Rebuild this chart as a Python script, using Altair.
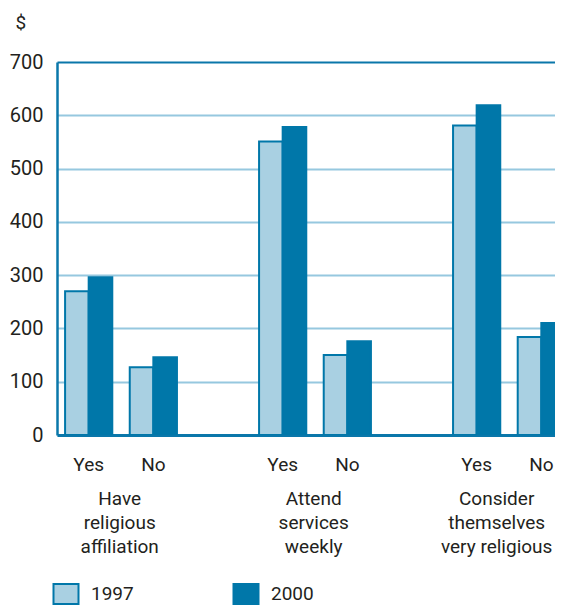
import altair as alt
import pandas as pd

groups = ["Have\nreligious\naffiliation", "Attend\nservices\nweekly", "Consider\nthemselves\nvery religious"]
answers = ["Yes", "No"]
years = ["1997", "2000"]
values_1997 = [270, 127, 551, 150, 581, 184]
values_2000 = [296, 146, 578, 176, 619, 210]
y_ticks = [0, 100, 200, 300, 400, 500, 600, 700]

slots = ["Yes1", "No1", "gap1", "Yes2", "No2", "gap2", "Yes3", "No3"]

rows = []
k = 0
for gi, g in enumerate(groups):
    for a in answers:
        slot = f"{a}{gi+1}"
        rows.append({"slot": slot, "year": "1997", "value": values_1997[k]})
        rows.append({"slot": slot, "year": "2000", "value": values_2000[k]})
        k += 1
df = pd.DataFrame(rows)
glabels = pd.DataFrame({"slot": [f"Yes{i+1}" for i in range(3)], "label": groups, "g": [1, 2, 3]})

FONT = "Roboto, sans-serif"
DARK = "#0a77aa"
BARDARK = "#0077a9"
LIGHT = "#a9d0e2"
TXT = "#231f20"

xscale = alt.Scale(domain=slots, paddingInner=0.27, paddingOuter=0.125)

bars = alt.Chart(df).mark_bar(stroke=BARDARK, strokeWidth=2, clip=True).encode(
    x=alt.X("slot:N", sort=slots, scale=xscale, title=None,
            axis=alt.Axis(labelExpr="slice(datum.value,0,-1) == 'gap' ? '' : slice(datum.value,0,-1)",
                          ticks=False, labelAngle=0, labelPadding=20, labelFontSize=19,
                          labelFont=FONT, labelColor=TXT, domainColor=DARK, domainWidth=3,
                          grid=False)),
    xOffset=alt.XOffset("year:N", sort=years),
    y=alt.Y("value:Q", scale=alt.Scale(domain=[0, 700], nice=False),
            axis=alt.Axis(values=y_ticks, ticks=False, labelPadding=14, labelFontSize=20,
                          labelFont=FONT, labelColor=TXT, domainColor=DARK, domainWidth=2.5,
                          gridColor={"condition": {"test": "datum.value == 700", "value": DARK}, "value": "#96c8df"},
                          gridWidth=2,
                          title="$", titleAngle=0, titleAlign="left", titleBaseline="alphabetic",
                          titleX=-42, titleY=-34, titleFont=FONT, titleFontSize=19,
                          titleFontWeight="normal", titleColor=TXT)),
    fill=alt.Fill("year:N", sort=years, scale=alt.Scale(domain=years, range=[LIGHT, BARDARK]),
                  legend=alt.Legend(title=None, orient="none", legendX=-2, legendY=521,
                                    direction="horizontal", columnPadding=95,
                                    symbolType="M-1.25,-1H1.25V1H-1.25Z", symbolSize=400,
                                    symbolStrokeColor=BARDARK, symbolStrokeWidth=2,
                                    labelFont=FONT, labelFontSize=19, labelColor=TXT,
                                    labelOffset=14)),
)

def group_text(sel, dx):
    return alt.Chart(glabels).transform_filter(sel).mark_text(
        font=FONT, fontSize=19, color=TXT, baseline="top", align="center",
        lineBreak="\n", lineHeight=24, dx=dx).encode(
        x=alt.X("slot:N", sort=slots, scale=xscale),
        y=alt.value(428),
        text="label:N",
    )

texts12 = group_text("datum.g < 3", 31)
texts3 = group_text("datum.g == 3", 20)

chart = alt.layer(bars, texts12, texts3).properties(
    width=516, height=373,
    autosize=alt.AutoSizeParams(type="none"),
    padding={"left": 49, "top": 54, "right": -18, "bottom": 172},
).configure_view(stroke=None)

chart.save("out.html", embed_options={"renderer": "svg", "actions": False})
